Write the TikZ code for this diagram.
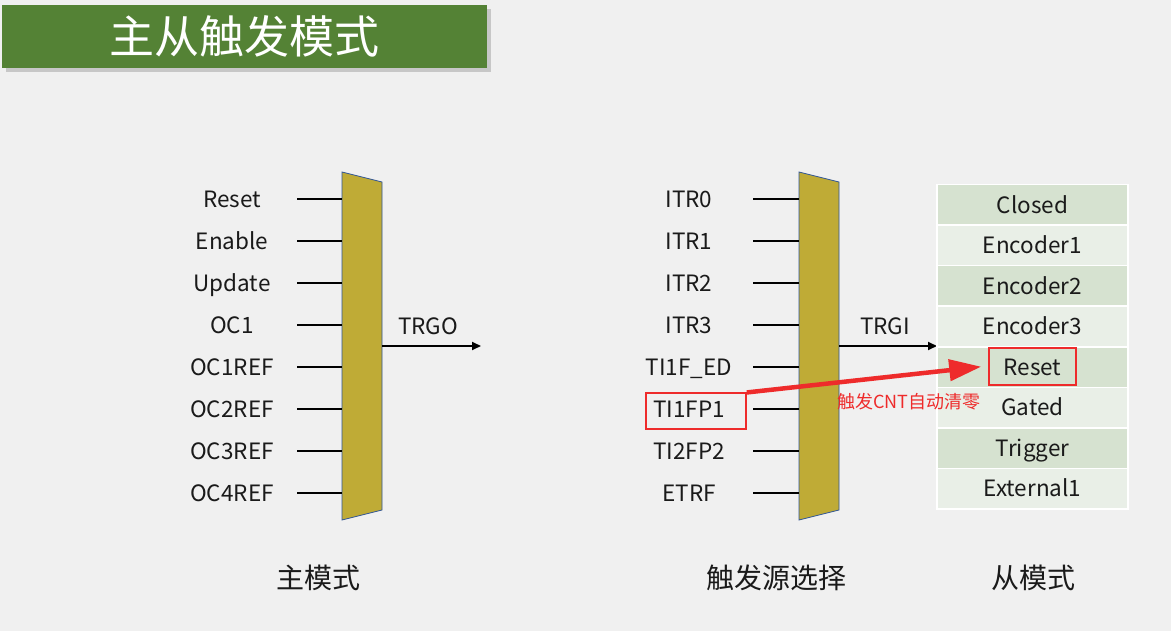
\documentclass[tikz,border=0pt]{standalone}
\usepackage{fontspec}
\setmainfont{Noto Sans CJK SC}
\usetikzlibrary{arrows.meta}

\definecolor{pagebg}{HTML}{F0F0F0}
\definecolor{titlegreen}{HTML}{548235}
\definecolor{muxfill}{HTML}{BFAB36}
\definecolor{muxedge}{HTML}{2F5597}
\definecolor{rowdark}{HTML}{D6E2D0}
\definecolor{rowlight}{HTML}{E9EFE7}
\definecolor{alert}{HTML}{EE2B2B}
\definecolor{ink}{HTML}{1A1A1A}

\tikzset{
  lbl/.style={text=ink, font=\fontsize{22.5}{26}\selectfont, inner sep=0pt, text height=16.5pt, text depth=0pt},
  caption/.style={text=ink, font=\fontsize{28}{32}\selectfont, inner sep=0pt},
  wire/.style={line width=2.8pt, draw=black},
  sig/.style={line width=2pt, draw=black, -{Triangle[length=9pt,width=8pt]}},
  mux/.style={fill=muxfill, draw=muxedge, line width=0.8pt},
  row/.style={draw=white, line width=1.5pt, minimum width=191pt, minimum height=40.5pt, inner sep=0pt,
              text=ink, font=\fontsize{22.5}{26}\selectfont, text height=16.5pt, text depth=0pt},
  hl/.style={draw=alert, line width=1.6pt, inner sep=0pt},
}

\begin{document}
\begin{tikzpicture}[x=1pt,y=-1pt]
  % page
  \fill[pagebg] (0,0) rectangle (1171,631);
  \useasboundingbox (0,0) rectangle (1171,631);

  % title bar with soft shadow
  \fill[black!22] (6,9) rectangle (491,72);
  \node[fill=titlegreen, minimum width=485pt, minimum height=63pt, anchor=north west, inner sep=0pt,
        text=white, font=\fontsize{45}{50}\selectfont] (title) at (2,5) {主从触发模式};

  % ---------- master mode multiplexer ----------
  \path[mux] (342,172) -- (382,182) -- (382,510) -- (342,520) -- cycle;
  \coordinate (mlout) at (382,346);
  \foreach \t [count=\i] in {Reset,Enable,Update,OC1,OC1REF,OC2REF,OC3REF,OC4REF} {
    \pgfmathsetmacro\yy{199+42*(\i-1)}
    \node[lbl] (ml\i) at (232,\yy) {\t};
    \coordinate (mls\i) at (297,\yy);
    \coordinate (mle\i) at (342,\yy);
    \draw[wire] (mls\i) -- (mle\i);
  }
  \coordinate (trgoend) at (481,346);
  \draw[sig] (mlout) -- (trgoend);
  \node[lbl] (trgo) at (428,326) {TRGO};

  % ---------- trigger source multiplexer ----------
  \path[mux] (799,172) -- (839,182) -- (839,510) -- (799,520) -- cycle;
  \coordinate (tsout) at (839,346);
  \foreach \t [count=\i] in {ITR0,ITR1,ITR2,ITR3,TI1F\_ED,TI1FP1,TI2FP2,ETRF} {
    \pgfmathsetmacro\yy{199+42*(\i-1)}
    \node[lbl] (ts\i) at (689,\yy) {\t};
    \coordinate (tss\i) at (753,\yy);
    \coordinate (tse\i) at (799,\yy);
    \draw[wire] (tss\i) -- (tse\i);
  }
  \coordinate (trgiend) at (937,346);
  \draw[sig] (tsout) -- (trgiend);
  \node[lbl] (trgi) at (885,326) {TRGI};

  % ---------- slave mode table ----------
  \foreach \t/\c [count=\i] in {Closed/rowdark,Encoder1/rowlight,Encoder2/rowdark,Encoder3/rowlight,
                                Reset/rowdark,Gated/rowlight,Trigger/rowdark,External1/rowlight} {
    \pgfmathsetmacro\yy{205+40.5*(\i-1)}
    \node[row, fill=\c] (sm\i) at (1032.5,\yy) {\t};
  }

  % highlighted path: TI1FP1 -> Reset
  \node[hl, minimum width=100pt, minimum height=35.5pt] (tibox) at (696,411) {};
  \node[hl, minimum width=87pt, minimum height=37pt] (rsbox) at (1032.5,366.7) {};
  \draw[draw=alert, line width=4.5pt, -{Triangle[length=32pt,width=21pt]}]
    (tibox.north east) -- ([xshift=-7pt]rsbox.west);
  \node[text=alert, font=\fontsize{18}{21}\selectfont, inner sep=0pt] (note) at (909,402) {触发CNT自动清零};

  % ---------- captions ----------
  \node[caption] (cap1) at (318,578) {主模式};
  \node[caption] (cap2) at (776,578) {触发源选择};
  \node[caption] (cap3) at (1033,578) {从模式};
\end{tikzpicture}
\end{document}
